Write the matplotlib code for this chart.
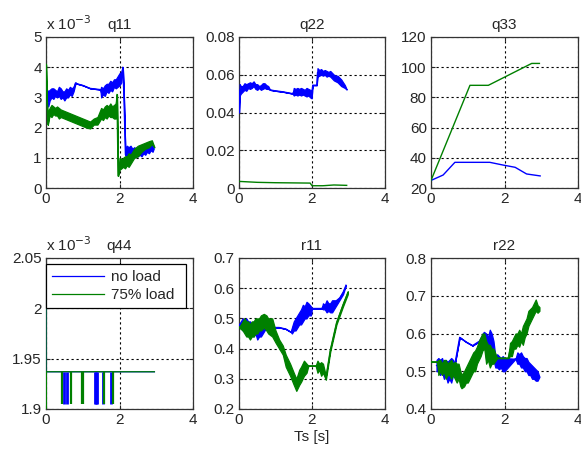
import matplotlib
matplotlib.use("Agg")
import matplotlib.pyplot as plt
from matplotlib.ticker import FuncFormatter, MultipleLocator

plt.rcParams['font.family'] = ['Liberation Sans', 'DejaVu Sans']

BLUE = (0, 0, 1)
GREEN = (0, 0.5, 0)

# ---------------- data ----------------
# q11 (x 1e-3)
q11_blue_t = [0.0, 0.03, 0.06, 0.1, 0.15, 0.2, 0.25, 0.3, 0.35, 0.4, 0.45, 0.5, 0.55, 0.6, 0.65, 0.7, 0.75, 0.8, 0.85, 1.0, 1.2, 1.48, 1.5, 1.55, 1.6, 1.65, 1.7, 1.75, 1.8, 1.85, 1.9, 1.95, 2.0, 2.05, 2.09, 2.12, 2.16, 2.2, 2.25, 2.3, 2.35, 2.4, 2.45, 2.5, 2.55, 2.6, 2.65, 2.7, 2.75, 2.8, 2.85, 2.9, 2.93]
q11_blue_lo = [3.3, 3.0, 2.7, 2.9, 3.0, 2.95, 3.05, 3.0, 3.05, 2.95, 3.0, 2.9, 3.0, 3.0, 3.1, 3.05, 3.2, 3.45, 3.45, 3.4, 3.3, 3.26, 3.0, 3.1, 3.05, 3.2, 3.15, 3.25, 3.2, 3.35, 3.3, 3.35, 3.4, 3.5, 4.0, 3.0, 1.1, 1.0, 1.15, 1.05, 1.1, 1.0, 1.1, 1.05, 1.1, 1.05, 1.15, 1.1, 1.2, 1.15, 1.25, 1.2, 1.3]
q11_blue_hi = [3.3, 3.25, 3.2, 3.25, 3.3, 3.3, 3.25, 3.2, 3.35, 3.3, 3.2, 3.2, 3.3, 3.25, 3.35, 3.3, 3.35, 3.5, 3.45, 3.4, 3.3, 3.26, 3.35, 3.3, 3.4, 3.45, 3.45, 3.55, 3.5, 3.6, 3.6, 3.7, 3.8, 3.85, 4.0, 3.0, 1.1, 1.4, 1.35, 1.4, 1.3, 1.35, 1.3, 1.3, 1.4, 1.35, 1.4, 1.4, 1.45, 1.45, 1.5, 1.45, 1.3]
q11_green_t = [0.0, 0.02, 0.05, 0.08, 0.1, 0.15, 0.2, 0.25, 0.3, 0.35, 0.4, 0.5, 0.6, 0.7, 0.8, 0.9, 1.0, 1.1, 1.2, 1.3, 1.4, 1.5, 1.55, 1.6, 1.65, 1.7, 1.75, 1.8, 1.85, 1.9, 1.93, 1.96, 2.0, 2.05, 2.1, 2.15, 2.2, 2.25, 2.3, 2.35, 2.4, 2.5, 2.6, 2.7, 2.8, 2.88, 2.95]
q11_green_lo = [4.1, 3.0, 2.1, 2.3, 2.4, 2.35, 2.45, 2.4, 2.4, 2.3, 2.35, 2.3, 2.25, 2.2, 2.15, 2.1, 2.05, 2.0, 1.97, 2.1, 2.1, 2.3, 2.25, 2.35, 2.3, 2.4, 2.35, 2.35, 2.3, 2.3, 3.1, 0.4, 0.6, 0.65, 0.7, 0.65, 0.75, 0.7, 0.8, 0.9, 1.0, 1.05, 1.2, 1.3, 1.35, 1.45, 1.35]
q11_green_hi = [4.1, 3.0, 2.1, 2.6, 2.65, 2.75, 2.7, 2.65, 2.7, 2.65, 2.6, 2.55, 2.5, 2.45, 2.4, 2.35, 2.3, 2.25, 2.2, 2.3, 2.35, 2.65, 2.6, 2.7, 2.75, 2.7, 2.8, 2.7, 2.75, 2.8, 3.1, 0.4, 1.0, 0.95, 1.0, 1.05, 1.05, 1.15, 1.1, 1.2, 1.3, 1.4, 1.45, 1.5, 1.55, 1.58, 1.35]

# q22
q22_blue_t = [0.0, 0.02, 0.05, 0.1, 0.15, 0.2, 0.25, 0.3, 0.35, 0.4, 0.45, 0.5, 0.55, 0.6, 0.65, 0.7, 0.75, 0.8, 0.85, 1.0, 1.2, 1.47, 1.5, 1.55, 1.6, 1.65, 1.7, 1.75, 1.8, 1.85, 1.9, 1.95, 1.99, 2.02, 2.1, 2.13, 2.15, 2.2, 2.25, 2.3, 2.35, 2.4, 2.45, 2.5, 2.55, 2.6, 2.65, 2.7, 2.75, 2.8, 2.85, 2.9, 2.95]
q22_blue_lo = [0.040, 0.049, 0.050, 0.051, 0.052, 0.0515, 0.053, 0.0525, 0.053, 0.054, 0.0525, 0.052, 0.053, 0.052, 0.0525, 0.053, 0.0525, 0.0525, 0.052, 0.0515, 0.051, 0.050, 0.049, 0.0495, 0.049, 0.0495, 0.049, 0.0495, 0.049, 0.0485, 0.049, 0.048, 0.0475, 0.0545, 0.0545, 0.0545, 0.059, 0.0595, 0.060, 0.0595, 0.060, 0.059, 0.0595, 0.059, 0.058, 0.057, 0.0565, 0.056, 0.055, 0.054, 0.0535, 0.053, 0.0522]
q22_blue_hi = [0.040, 0.055, 0.054, 0.054, 0.0555, 0.055, 0.0555, 0.056, 0.0555, 0.0565, 0.055, 0.055, 0.054, 0.0545, 0.0555, 0.0555, 0.0545, 0.054, 0.052, 0.0515, 0.051, 0.050, 0.053, 0.0525, 0.053, 0.0525, 0.053, 0.0525, 0.052, 0.053, 0.0525, 0.052, 0.0515, 0.0545, 0.0545, 0.0545, 0.0635, 0.0625, 0.063, 0.062, 0.0625, 0.062, 0.0615, 0.062, 0.061, 0.060, 0.0595, 0.0595, 0.0585, 0.0575, 0.056, 0.0545, 0.0522]
q22_green_t = [0.0, 0.5, 1.0, 1.5, 1.95, 2.0, 2.3, 2.6, 2.95]
q22_green_v = [0.0035, 0.0030, 0.0028, 0.0027, 0.0026, 0.0012, 0.0012, 0.0016, 0.0014]

# q33
q33_blue_t = [0.0, 0.33, 0.65, 1.6, 1.96, 2.29, 2.6, 2.97]
q33_blue_v = [25, 28.6, 37, 37, 35.2, 33.7, 29.3, 28]
q33_green_t = [0.0, 1.06, 1.56, 2.74, 2.95]
q33_green_v = [25, 88, 88, 102.5, 102.5]

# q44 (x 1e-3)
q44_t = [0.0, 0.0, 0.005, 2.95]
q44_blue_v = [2.0, 1.89, 1.937, 1.937]
q44_green_v = [2.0, 1.89, 1.937, 1.937]
q44_blue_spikes = [0.49, 0.57, 1.33, 1.36, 1.39, 1.55, 1.77]
q44_green_spikes = [0.43, 0.68, 0.99, 1.01, 1.57, 1.83]
q44_spike_lo = 1.905
q44_spike_hi = 1.937

# r11
r11_blue_t = [0.0, 0.05, 0.1, 0.15, 0.2, 0.25, 0.3, 0.35, 0.4, 0.45, 0.5, 0.55, 0.6, 0.7, 0.82, 1.0, 1.1, 1.28, 1.42, 1.45, 1.5, 1.55, 1.6, 1.65, 1.7, 1.75, 1.8, 1.85, 1.9, 1.97, 2.0, 2.27, 2.3, 2.35, 2.4, 2.45, 2.5, 2.55, 2.6, 2.65, 2.75, 2.85, 2.93]
r11_blue_lo = [0.48, 0.47, 0.46, 0.47, 0.45, 0.46, 0.45, 0.46, 0.44, 0.45, 0.43, 0.44, 0.44, 0.46, 0.475, 0.47, 0.47, 0.465, 0.455, 0.45, 0.46, 0.46, 0.47, 0.48, 0.48, 0.49, 0.50, 0.50, 0.51, 0.51, 0.533, 0.533, 0.53, 0.53, 0.52, 0.525, 0.52, 0.52, 0.53, 0.54, 0.56, 0.58, 0.61]
r11_blue_hi = [0.48, 0.49, 0.50, 0.49, 0.50, 0.49, 0.49, 0.48, 0.49, 0.47, 0.47, 0.48, 0.48, 0.47, 0.475, 0.47, 0.47, 0.465, 0.455, 0.47, 0.49, 0.50, 0.51, 0.52, 0.53, 0.545, 0.54, 0.555, 0.55, 0.54, 0.533, 0.533, 0.55, 0.545, 0.56, 0.55, 0.55, 0.56, 0.56, 0.56, 0.57, 0.59, 0.61]
r11_green_t = [0.0, 0.1, 0.15, 0.2, 0.25, 0.3, 0.35, 0.4, 0.45, 0.5, 0.55, 0.6, 0.68, 0.75, 0.8, 0.91, 1.0, 1.1, 1.2, 1.28, 1.4, 1.5, 1.57, 1.65, 1.7, 1.78, 1.85, 1.9, 2.1, 2.15, 2.2, 2.25, 2.3, 2.38, 2.5, 2.67, 2.85, 2.98]
r11_green_lo = [0.47, 0.46, 0.45, 0.44, 0.44, 0.43, 0.44, 0.44, 0.45, 0.45, 0.46, 0.46, 0.47, 0.46, 0.45, 0.44, 0.42, 0.40, 0.38, 0.34, 0.31, 0.28, 0.26, 0.28, 0.29, 0.31, 0.32, 0.343, 0.343, 0.32, 0.33, 0.31, 0.32, 0.297, 0.39, 0.48, 0.54, 0.58]
r11_green_hi = [0.47, 0.49, 0.50, 0.49, 0.49, 0.48, 0.49, 0.49, 0.50, 0.50, 0.50, 0.51, 0.515, 0.51, 0.50, 0.50, 0.46, 0.43, 0.41, 0.38, 0.35, 0.32, 0.30, 0.33, 0.34, 0.36, 0.35, 0.343, 0.343, 0.36, 0.35, 0.355, 0.35, 0.31, 0.40, 0.49, 0.55, 0.59]

# r22
r22_blue_t = [0.15, 0.2, 0.25, 0.3, 0.35, 0.4, 0.45, 0.5, 0.55, 0.6, 0.65, 0.78, 0.95, 1.13, 1.32, 1.45, 1.5, 1.55, 1.6, 1.65, 1.7, 1.75, 1.8, 1.85, 1.9, 1.95, 2.0, 2.3, 2.35, 2.4, 2.45, 2.5, 2.55, 2.6, 2.65, 2.7, 2.75, 2.8, 2.85, 2.9, 2.95]
r22_blue_lo = [0.50, 0.50, 0.49, 0.50, 0.48, 0.49, 0.47, 0.48, 0.47, 0.49, 0.52, 0.59, 0.578, 0.568, 0.58, 0.603, 0.53, 0.54, 0.53, 0.52, 0.53, 0.51, 0.51, 0.505, 0.51, 0.50, 0.50, 0.533, 0.52, 0.52, 0.51, 0.51, 0.50, 0.50, 0.49, 0.49, 0.48, 0.48, 0.475, 0.475, 0.485]
r22_blue_hi = [0.53, 0.535, 0.53, 0.535, 0.52, 0.53, 0.525, 0.53, 0.535, 0.53, 0.52, 0.59, 0.578, 0.568, 0.58, 0.603, 0.60, 0.59, 0.61, 0.60, 0.58, 0.54, 0.545, 0.54, 0.535, 0.54, 0.535, 0.533, 0.55, 0.545, 0.55, 0.54, 0.535, 0.535, 0.525, 0.52, 0.515, 0.51, 0.505, 0.50, 0.485]
r22_green_t = [0.0, 0.17, 0.2, 0.25, 0.3, 0.35, 0.4, 0.45, 0.5, 0.55, 0.6, 0.65, 0.7, 0.75, 0.8, 0.83, 0.9, 0.95, 1.0, 1.05, 1.1, 1.15, 1.2, 1.25, 1.3, 1.35, 1.4, 1.45, 1.5, 1.55, 1.6, 1.65, 1.7, 1.8, 2.1, 2.15, 2.2, 2.25, 2.3, 2.35, 2.4, 2.45, 2.5, 2.55, 2.6, 2.65, 2.7, 2.75, 2.8, 2.85, 2.9, 2.95]
r22_green_lo = [0.525, 0.525, 0.49, 0.50, 0.49, 0.50, 0.48, 0.49, 0.49, 0.48, 0.49, 0.48, 0.47, 0.48, 0.46, 0.455, 0.46, 0.47, 0.47, 0.48, 0.49, 0.50, 0.50, 0.52, 0.53, 0.54, 0.555, 0.56, 0.52, 0.53, 0.51, 0.52, 0.52, 0.535, 0.535, 0.54, 0.54, 0.56, 0.56, 0.57, 0.565, 0.58, 0.57, 0.59, 0.60, 0.62, 0.63, 0.64, 0.65, 0.66, 0.655, 0.66]
r22_green_hi = [0.525, 0.525, 0.53, 0.53, 0.52, 0.53, 0.53, 0.52, 0.525, 0.53, 0.52, 0.525, 0.52, 0.52, 0.50, 0.49, 0.50, 0.51, 0.52, 0.53, 0.54, 0.55, 0.555, 0.565, 0.58, 0.59, 0.60, 0.60, 0.58, 0.57, 0.57, 0.56, 0.56, 0.535, 0.535, 0.575, 0.58, 0.59, 0.60, 0.60, 0.61, 0.60, 0.62, 0.63, 0.64, 0.66, 0.665, 0.67, 0.68, 0.69, 0.675, 0.67]

titles = ['q11', 'q22', 'q33', 'q44', 'r11', 'r22']
ylims = [(0, 5), (0, 0.08), (20, 120), (1.9, 2.05), (0.2, 0.7), (0.4, 0.8)]
ysteps = [1, 0.02, 20, 0.05, 0.1, 0.1]
legend_labels = ['no load', '75% load']
xlabel_text = 'Ts [s]'

# ---------------- figure ----------------
W, H = 581, 450
fig = plt.figure(figsize=(W / 100, H / 100), dpi=100)

lefts = [46, 239, 431]
widths = [147, 146, 147]
tops = [37, 258]
height = 151

TXT = '#262626'
axes = []
for r in range(2):
    for c in range(3):
        ax = fig.add_axes([lefts[c] / W, 1 - (tops[r] + height) / H, widths[c] / W, height / H])
        axes.append(ax)


def band(ax, t, lo, hi, color, label=None):
    ax.fill_between(t, lo, hi, color=color, lw=0.9, edgecolor=color, zorder=3)
    mid = [(a + b) / 2 for a, b in zip(lo, hi)]
    ax.plot(t, mid, color=color, lw=0.9, zorder=3, label=label)


fmt = FuncFormatter(lambda v, p: ('%g' % round(v, 6)))

for i, ax in enumerate(axes):
    ax.set_xlim(0, 4)
    ax.set_ylim(*ylims[i])
    ax.xaxis.set_major_locator(MultipleLocator(2))
    ax.yaxis.set_major_locator(MultipleLocator(ysteps[i]))
    ax.xaxis.set_major_formatter(fmt)
    ax.yaxis.set_major_formatter(fmt)
    ax.grid(True, color='black', linestyle=(0, (2, 2.5)), lw=0.8)
    ax.set_axisbelow(True)
    ax.tick_params(direction='in', length=3, width=0.8, labelsize=11, colors=TXT,
                   pad=3, top=True, right=True)
    for s in ax.spines.values():
        s.set_color('#333333')
        s.set_linewidth(0.9)
    ax.set_title(titles[i], fontsize=11, color=TXT, pad=6)

# q11
a = axes[0]
band(a, q11_blue_t, q11_blue_lo, q11_blue_hi, BLUE)
band(a, q11_green_t, q11_green_lo, q11_green_hi, GREEN)
a.text(0.0, 1.025, r'x 10$^{-3}$', transform=a.transAxes, fontsize=11, color=TXT,
       ha='left', va='bottom')

# q22
a = axes[1]
band(a, q22_blue_t, q22_blue_lo, q22_blue_hi, BLUE)
a.plot(q22_green_t, q22_green_v, color=GREEN, lw=1.0, zorder=3)

# q33
a = axes[2]
a.plot(q33_blue_t, q33_blue_v, color=BLUE, lw=1.0, zorder=3)
a.plot(q33_green_t, q33_green_v, color=GREEN, lw=1.0, zorder=3)

# q44
a = axes[3]
a.plot(q44_t, q44_blue_v, color=BLUE, lw=0.9, zorder=3, label=legend_labels[0])
a.plot(q44_t, q44_green_v, color=GREEN, lw=0.9, zorder=3, label=legend_labels[1])
a.vlines(q44_blue_spikes, q44_spike_lo, q44_spike_hi, color=BLUE, lw=2.0, zorder=3)
a.vlines(q44_green_spikes, q44_spike_lo, q44_spike_hi, color=GREEN, lw=1.6, zorder=3)
a.text(0.0, 1.025, r'x 10$^{-3}$', transform=a.transAxes, fontsize=11, color=TXT,
       ha='left', va='bottom')
leg = a.legend(loc='upper left', bbox_to_anchor=(0, 0, 0.955, 0.96), mode='expand',
               borderaxespad=0, fancybox=False, framealpha=1, edgecolor='black',
               fontsize=11, handlelength=3.4, handletextpad=0.45, borderpad=0.4,
               labelspacing=0.25)
leg.get_frame().set_linewidth(0.9)
for t in leg.get_texts():
    t.set_color(TXT)
    t.set_ha('left')

# r11
a = axes[4]
band(a, r11_blue_t, r11_blue_lo, r11_blue_hi, BLUE)
band(a, r11_green_t, r11_green_lo, r11_green_hi, GREEN)
a.set_xlabel(xlabel_text, fontsize=11, color=TXT, labelpad=2)

# r22
a = axes[5]
band(a, r22_blue_t, r22_blue_lo, r22_blue_hi, BLUE)
band(a, r22_green_t, r22_green_lo, r22_green_hi, GREEN)

fig.savefig('out.png', dpi=100, facecolor='white')
